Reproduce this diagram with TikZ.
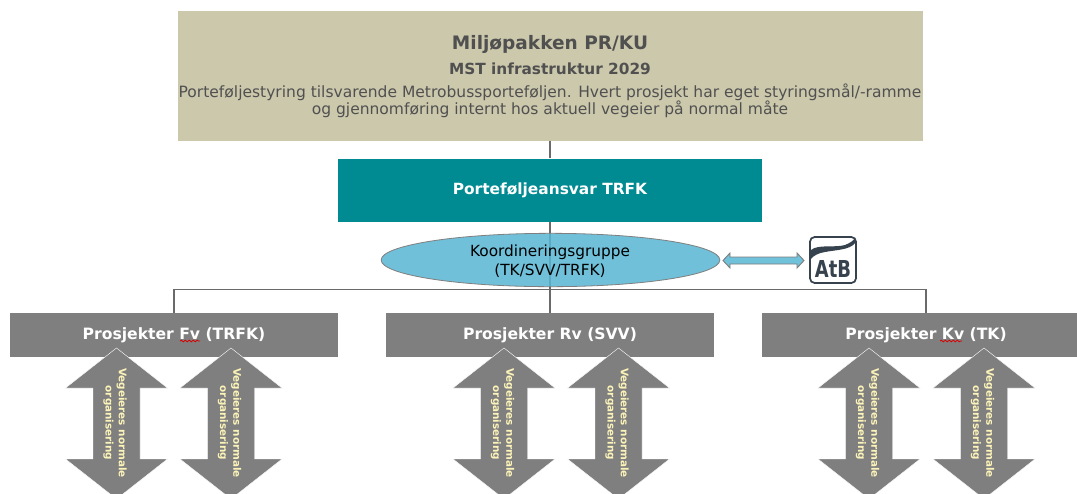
\documentclass[tikz,border=0pt]{standalone}
\usepackage{fontspec}
\setmainfont{DejaVu Sans}
\usetikzlibrary{shapes.geometric,decorations.pathmorphing}
\definecolor{khaki}{HTML}{CCC8AC}
\definecolor{teal2}{HTML}{008A92}
\definecolor{gray2}{HTML}{7F7F7F}
\definecolor{sky}{HTML}{58B6D4}
\definecolor{skyb}{HTML}{70C1DA}
\definecolor{dark}{HTML}{505050}
\definecolor{linkc}{HTML}{6A6A6A}
\definecolor{cream}{HTML}{FBF3B8}
\definecolor{logo}{HTML}{36424D}
\tikzset{
 x=0.75pt,y=-0.75pt,
 link/.style={draw=linkc,line width=1pt},
 project/.style={fill=gray2,minimum width=246.5pt,minimum height=33pt,inner sep=0pt,text=white,font=\bfseries\fontsize{11.7}{13}\selectfont},
 vtext/.style={text=cream,font=\bfseries\fontsize{7.8}{10}\selectfont,align=center,rotate=-90},
 squiggle/.style={draw=red!85!black,line width=0.6pt,decorate,decoration={snake,amplitude=0.6pt,segment length=3pt}}
}
\newcommand{\dblarrow}[2]{%
 \fill[gray2,draw=white,line width=0.3pt] (#1,348) -- (#1+51,388) -- (#1+23.5,388) -- (#1+23.5,459) -- (#1+51,459) -- (#1,499) -- (#1-51,459) -- (#1-23.5,459) -- (#1-23.5,388) -- (#1-51,388) -- cycle;
 \node[vtext] (#2) at (#1-1.5,423) {Vegeieres normale\\organisering};}
\begin{document}
\begin{tikzpicture}
\useasboundingbox (0,0) rectangle (1077,493);
\clip (0,0) rectangle (1077,493);
\fill[white] (0,0) rectangle (1077,493);
\node[fill=khaki,minimum width=558.75pt,minimum height=97.5pt,inner sep=0pt] (top) at (550,75.5) {};
\node[text=dark,font=\bfseries\fontsize{13.9}{15}\selectfont,inner sep=0pt] (t1) at (550,44) {Miljøpakken PR/KU};
\node[text=dark,font=\bfseries\fontsize{11.5}{13}\selectfont,inner sep=0pt] (t2) at (550,69) {MST infrastruktur 2029};
\node[text=dark,font=\fontsize{11.64}{12.75}\selectfont,align=center,inner sep=0pt] (t3) at (550,100.5) {Porteføljestyring tilsvarende Metrobussporteføljen. Hvert prosjekt har eget styringsmål/-ramme\\og gjennomføring internt hos aktuell vegeier på normal måte};
\node[fill=teal2,minimum width=318pt,minimum height=47.25pt,inner sep=0pt,text=white,font=\bfseries\fontsize{11.55}{13}\selectfont] (pf) at (550,190) {Porteføljeansvar TRFK};
\node[project] (fv) at (174,335) {\raisebox{0.7pt}{Prosjekter Fv (TRFK)}};
\node[project] (rv) at (550,335) {\raisebox{0.7pt}{Prosjekter Rv (SVV)}};
\node[project] (kv) at (926,335) {\raisebox{0.7pt}{Prosjekter Kv (TK)}};
\draw[link] (top.south) -- (pf.north);
\draw[link] (pf.south) -- (rv.north);
\draw[link] (fv.north) -- (174,289.5) -- (926,289.5) -- (kv.north);
\node[ellipse,fill=sky,fill opacity=0.85,draw=gray2,line width=0.6pt,minimum width=254pt,minimum height=40pt,inner sep=0pt] (koord) at (550.5,260) {};
\node[align=center,font=\fontsize{11.5}{14}\selectfont,inner sep=0pt] (ktext) at (550,261) {Koordineringsgruppe\\(TK/SVV/TRFK)};
\coordinate (la) at (723,260.5);
\coordinate (lb) at (804,260.5);
\fill[skyb,draw=gray2,line width=0.7pt] (la) -- (730,253) -- (730,257) -- (797,257) -- (797,253) -- (lb) -- (797,268) -- (797,264) -- (730,264) -- (730,268) -- cycle;
\draw[logo,line width=1.3pt,rounded corners=3.5pt] (810,237) rectangle (856,283);
\fill[logo] (811,250) .. controls (818,244) and (835,248) .. (845,245) .. controls (850,243) and (853,241) .. (855,238) -- (855,243) .. controls (850,250) and (835,250) .. (825,252) .. controls (818,253) and (813,256) .. (811,259) -- cycle;
\node[text=logo,font=\bfseries\fontsize{17.5}{17.5}\selectfont,inner sep=0pt] (atb) at (833,269) {\addfontfeature{FakeStretch=0.77}AtB};
\draw[squiggle] (180,341) -- (200,341);
\draw[squiggle] (940,341) -- (962,341);
\dblarrow{116.5}{a1}
\dblarrow{231}{a2}
\dblarrow{504}{a3}
\dblarrow{618.5}{a4}
\dblarrow{869}{a5}
\dblarrow{984}{a6}
\end{tikzpicture}
\end{document}
